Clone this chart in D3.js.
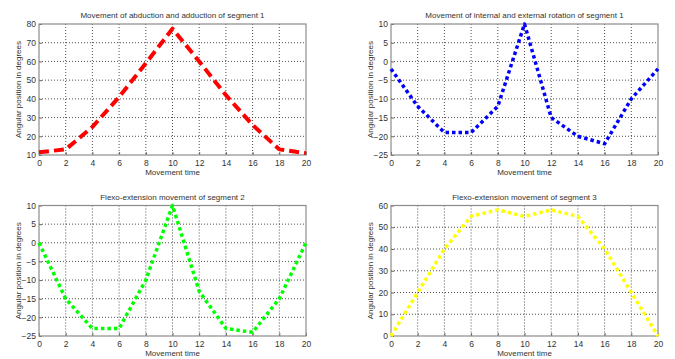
<!DOCTYPE html>
<html>
<head>
<meta charset="utf-8">
<script src="https://cdn.jsdelivr.net/npm/d3@7"></script>
<style>
  body { margin: 0; background: #fff; }
  svg { display: block; font-family: "Liberation Sans", Arial, sans-serif; }
</style>
</head>
<body>
<svg id="chart" width="675" height="359"></svg>
<script>
// movement time (x) shared by all four panels
const times = [0, 2, 4, 6, 8, 10, 12, 14, 16, 18, 20];

// angular positions in degrees
const abduction = [11.5, 13, 25, 41, 59, 77.5, 60, 42, 26, 13, 11];
const rotation = [-2, -12, -19, -19, -12, 10, -15, -20, -22, -10, -2];
const flexo2 = [0, -15, -23, -23, -10, 10, -13, -23, -24, -15, 0];
const flexo3 = [0, 20, 40, 55, 58, 55, 58, 55, 40, 20, 0];

const titles = [
  'Movement of abduction and adduction of segment 1',
  'Movement of internal and external rotation of segment 1',
  'Flexo-extension movement of segment 2',
  'Flexo-extension movement of segment 3'
];
const xTicks = d3.range(0, 21, 2);

const svg = d3.select('#chart');

const panels = [
  { x0: 39, x1: 306, y0: 24, y1: 155, data: abduction, dom: [10, 80], step: 10, color: '#ff0000', dash: '10,5', width: 4, title: titles[0] },
  { x0: 391, x1: 658, y0: 24, y1: 155, data: rotation, dom: [-25, 10], step: 5, color: '#0000ff', dash: '3.5,3', width: 3.5, title: titles[1] },
  { x0: 39, x1: 306, y0: 205.5, y1: 336, data: flexo2, dom: [-25, 10], step: 5, color: '#00ff00', dash: '3.5,3', width: 3.5, title: titles[2] },
  { x0: 391, x1: 658, y0: 205.5, y1: 336, data: flexo3, dom: [0, 60], step: 10, color: '#ffff00', dash: '3.5,3', width: 3.5, title: titles[3] }
];

panels.forEach((p) => {
  const x = d3.scaleLinear().domain([0, 20]).range([p.x0, p.x1]);
  const y = d3.scaleLinear().domain(p.dom).range([p.y1, p.y0]);
  const yTicks = d3.range(p.dom[0], p.dom[1] + 0.001, p.step);
  const g = svg.append('g');

  // dotted grid
  g.append('g')
    .selectAll('line')
    .data(xTicks.slice(1, -1))
    .enter()
    .append('line')
    .attr('x1', (d) => x(d)).attr('x2', (d) => x(d))
    .attr('y1', p.y0).attr('y2', p.y1)
    .attr('stroke', '#222').attr('stroke-width', 0.8)
    .attr('stroke-dasharray', '1,2');
  g.append('g')
    .selectAll('line')
    .data(yTicks.slice(1, -1))
    .enter()
    .append('line')
    .attr('y1', (d) => y(d)).attr('y2', (d) => y(d))
    .attr('x1', p.x0).attr('x2', p.x1)
    .attr('stroke', '#222').attr('stroke-width', 0.8)
    .attr('stroke-dasharray', '1,2');

  // axes
  const ax = g.append('g')
    .attr('transform', `translate(0,${p.y1})`)
    .call(d3.axisBottom(x).tickValues(xTicks).tickSizeInner(-3).tickSizeOuter(0).tickPadding(5));
  const ay = g.append('g')
    .attr('transform', `translate(${p.x0},0)`)
    .call(d3.axisLeft(y).tickValues(yTicks).tickSizeInner(-3).tickSizeOuter(0).tickPadding(3));
  [ax, ay].forEach((a) => {
    a.select('.domain').remove();
    a.selectAll('.tick line').attr('stroke', '#666');
    a.selectAll('.tick text')
      .attr('fill', '#333')
      .style('font-size', '8.5px')
      .style('font-family', '"Liberation Sans", Arial, sans-serif');
  });

  // box
  g.append('rect')
    .attr('x', p.x0).attr('y', p.y0)
    .attr('width', p.x1 - p.x0).attr('height', p.y1 - p.y0)
    .attr('fill', 'none').attr('stroke', '#8c8c8c').attr('stroke-width', 1.2);

  // series
  const line = d3.line()
    .x((d, i) => x(times[i]))
    .y((d) => y(d));
  g.append('path')
    .datum(p.data)
    .attr('fill', 'none')
    .attr('stroke', p.color)
    .attr('stroke-width', p.width)
    .attr('stroke-dasharray', p.dash)
    .attr('stroke-linejoin', 'round')
    .attr('d', line);

  // texts
  const cx = (p.x0 + p.x1) / 2;
  g.append('text')
    .attr('x', cx).attr('y', p.y0 - 6)
    .attr('text-anchor', 'middle')
    .attr('fill', '#333')
    .style('font-size', '8px')
    .text(p.title);
  g.append('text')
    .attr('x', cx).attr('y', p.y1 + 20)
    .attr('text-anchor', 'middle')
    .attr('fill', '#333')
    .style('font-size', '8px')
    .text('Movement time');
  g.append('text')
    .attr('transform', `translate(${p.x0 - 18},${(p.y0 + p.y1) / 2}) rotate(-90)`)
    .attr('text-anchor', 'middle')
    .attr('fill', '#333')
    .style('font-size', '8px')
    .text('Angular position in degrees');
});
</script>
</body>
</html>
